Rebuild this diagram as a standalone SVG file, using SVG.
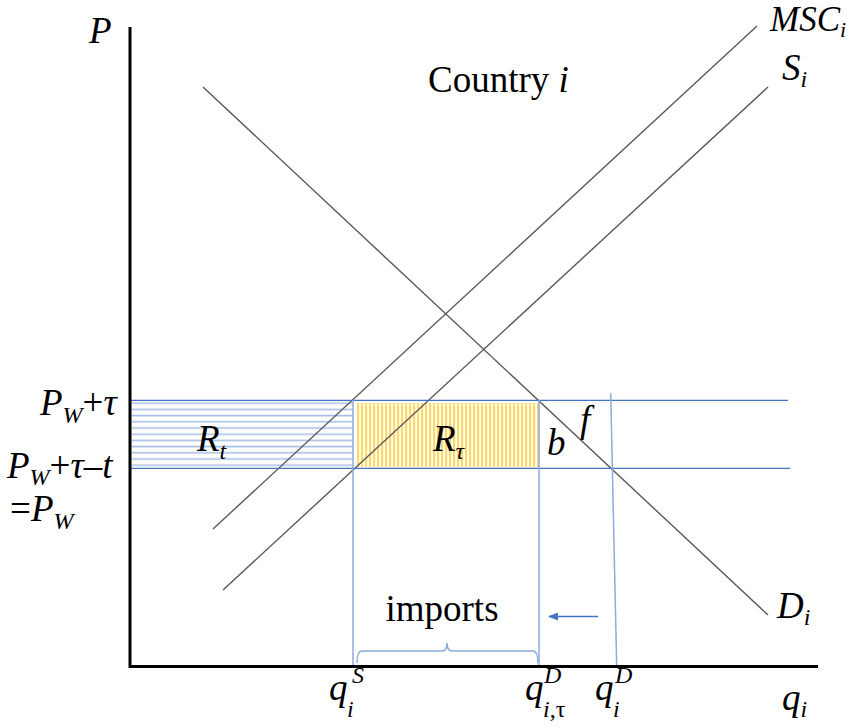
<svg xmlns="http://www.w3.org/2000/svg" width="859" height="728" viewBox="0 0 859 728">
<style>
text{font-family:"Liberation Serif","Times New Roman",serif;fill:#000}
.it{font-style:italic}
.lab{font-size:37px}
.sub{font-size:24px}
.curve{stroke:#595959;stroke-width:1.4;fill:none}
.blue{stroke:#4472C4;stroke-width:1.3;fill:none}
.lblue{stroke:#8FAADC;stroke-width:1.5;fill:none}
.axis{stroke:#000;stroke-width:3;fill:none}
</style>
<defs>
<pattern id="hstripe" patternUnits="userSpaceOnUse" x="0" y="400" width="10" height="6.2">
<rect width="10" height="6.2" fill="#fff"/>
<rect y="2.4" width="10" height="1.6" fill="#A9C0E6"/>
</pattern>
<pattern id="vstripe" patternUnits="userSpaceOnUse" x="357" y="0" width="4" height="10">
<rect width="4" height="10" fill="#fff"/>
<rect width="2.2" height="10" fill="#FFD966"/>
</pattern>
<marker id="ah" markerWidth="10" markerHeight="8" refX="9" refY="4" orient="auto" markerUnits="userSpaceOnUse">
<path d="M0,0 L10,4 L0,8 Z" fill="#4472C4"/>
</marker>
</defs>

<g id="areas">
<rect id="Rt-area" x="131.5" y="401" width="221.5" height="66" fill="url(#hstripe)"/>
<rect id="Rtau-area" x="357" y="403" width="182" height="64" fill="url(#vstripe)"/>
</g>

<g id="connectors">
<line class="curve" x1="213" y1="529" x2="757" y2="26"/>
<line class="curve" x1="223" y1="590" x2="768" y2="87"/>
<line class="curve" x1="203" y1="87" x2="768" y2="615"/>
<line class="blue" x1="131" y1="400.3" x2="788" y2="400.3"/>
<line class="blue" x1="131" y1="468.3" x2="790" y2="468.3"/>
<line class="lblue" x1="353" y1="400" x2="353" y2="667"/>
<line class="lblue" x1="539" y1="400" x2="539" y2="667"/>
<line class="lblue" x1="610.7" y1="393" x2="616.7" y2="667"/>
<path class="lblue" d="M357,663 Q357,651 362,651 L442,651 Q447,651 447,643 Q447,651 452,651 L533,651 Q538,651 538,663"/>
<line stroke="#4472C4" stroke-width="1.5" x1="598" y1="616.5" x2="549" y2="616.5" marker-end="url(#ah)"/>
</g>

<g id="axes">
<polyline class="axis" points="130,27 130,666.5 818,666.5"/>
</g>

<g id="labels">
<text class="lab it" x="89" y="43">P</text>
<text class="lab" x="428" y="92">Country <tspan class="it">i</tspan></text>
<text class="it" x="770" y="31" style="font-size:35px">MSC<tspan style="font-size:22px" dy="6">i</tspan></text>
<text class="lab it" x="782" y="80">S<tspan class="sub" dy="7">i</tspan></text>
<text class="lab" x="40" y="415"><tspan class="it">P</tspan><tspan class="sub it" dy="8">W</tspan><tspan dy="-8">+</tspan><tspan class="it">τ</tspan></text>
<text class="lab" x="7" y="478"><tspan class="it">P</tspan><tspan class="sub it" dy="7">W</tspan><tspan dy="-7">+</tspan><tspan class="it">τ</tspan>–<tspan class="it">t</tspan></text>
<text class="lab" x="10" y="521">=<tspan class="it">P</tspan><tspan class="sub it" dy="8">W</tspan></text>
<text class="lab it" x="197" y="451">R<tspan class="sub" dy="8">t</tspan></text>
<text class="lab it" x="433" y="451">R<tspan class="sub" dy="8">τ</tspan></text>
<text class="lab it" x="547" y="455">b</text>
<text class="lab it" x="580" y="432">f</text>
<text class="lab" x="442" y="621" text-anchor="middle">imports</text>
<text class="lab it" x="777" y="618">D<tspan class="sub" dy="7">i</tspan></text>
<text class="lab it" x="782" y="710">q<tspan class="sub" dy="7">i</tspan></text>
<text class="lab it" x="329" y="700">q</text>
<text class="sub it" x="352" y="683">S</text>
<text class="sub it" x="347" y="717">i</text>
<text class="lab it" x="525" y="700">q</text>
<text class="sub it" x="544" y="683">D</text>
<text class="sub" x="543" y="717"><tspan class="it">i</tspan>,τ</text>
<text class="lab it" x="595" y="700">q</text>
<text class="sub it" x="615" y="683">D</text>
<text class="sub it" x="613" y="717">i</text>
</g>
</svg>
